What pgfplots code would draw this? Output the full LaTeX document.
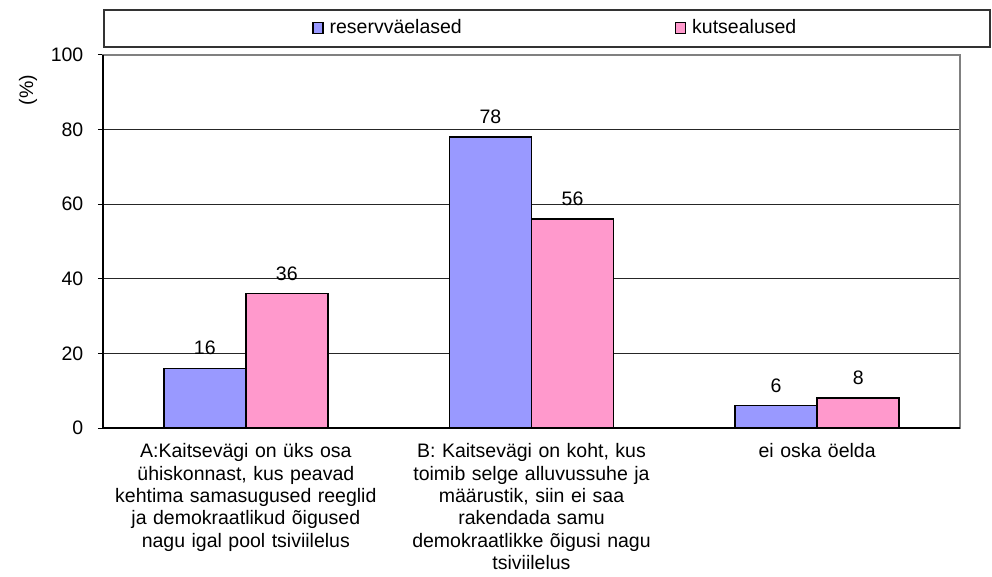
\documentclass[border=0pt]{standalone}
\usepackage{pgfplots}
\pgfplotsset{compat=1.18}
\usepackage{fontspec}
\setmainfont{Liberation Sans}
\definecolor{cblue}{HTML}{9999FF}
\definecolor{cpink}{HTML}{FF99CC}
\newcommand{\ff}{\fontsize{19.5bp}{22.3bp}\selectfont}
\begin{document}
\ff
\begin{tikzpicture}
\useasboundingbox (-103bp,-149bp) rectangle (889bp,428bp);
\begin{axis}[
  width=857bp, height=373bp, scale only axis,
  ybar=0pt, bar width=82bp,
  xmin=-0.5, xmax=2.5, ymin=0, ymax=100,
  ytick={0,20,40,60,80,100},
  xtick={0,1,2},
  xticklabels={{A:Kaitsevägi on üks osa\\ühiskonnast, kus peavad\\kehtima samasugused reeglid\\ja demokraatlikud õigused\\nagu igal pool tsiviilelus},
               {B: Kaitsevägi on koht, kus\\toimib selge alluvussuhe ja\\määrustik, siin ei saa\\rakendada samu\\demokraatlikke õigusi nagu\\tsiviilelus},
               {ei oska öelda}},
  x tick label style={align=center, text width=290bp, anchor=north, yshift=-4bp, font=\ff},
  y tick label style={font=\ff, xshift=-8bp},
  /pgf/number format/assume math mode=true,
  tick pos=left,
  major x tick style={draw=none},
  extra x ticks={-0.5,0.5,1.5,2.5},
  extra x tick labels={},
  extra x tick style={grid=none, major tick length=6bp, tick style={draw=black, line width=1bp}, tick align=outside},
  ytick style={draw=black, line width=1bp},
  tick align=outside, major tick length=5bp,
  ymajorgrids, grid style={draw=black!85, line width=0.9bp},
  axis line style={draw=gray, line width=1.2bp},
  ylabel={(\%)},
  ylabel style={at={(rel axis cs:-0.0875,0.906)}, anchor=center, font=\ff},
  nodes near coords,
  every node near coord/.append style={font=\ff, text=black, yshift=6bp},
  legend columns=2,
  legend style={draw=none, fill=none, at={(rel axis cs:0.2439,1.0724)}, anchor=west, inner xsep=0pt,
    font=\ff,
    /tikz/every odd column/.append style={column sep=4bp},
    /tikz/every even column/.append style={column sep=211bp}},
  legend image code/.code={\draw[#1, draw=black, line width=1.4bp] (0bp,-5.5bp) rectangle (10bp,5.5bp);},
  clip=false,
]
\addplot[fill=cblue, draw=black, line width=1.4bp] coordinates {(0,16) (1,78) (2,6)};
\addplot[fill=cpink, draw=black, line width=1.4bp] coordinates {(0,36) (1,56) (2,8)};
\legend{reservväelased, kutsealused}
\draw[black, line width=1.4bp] (rel axis cs:0,1) -- (rel axis cs:0,0) -- (rel axis cs:1,0);
\end{axis}
\draw[black!80, line width=1.2bp] (1bp,381bp) rectangle (887bp,418bp);
\end{tikzpicture}
\end{document}
